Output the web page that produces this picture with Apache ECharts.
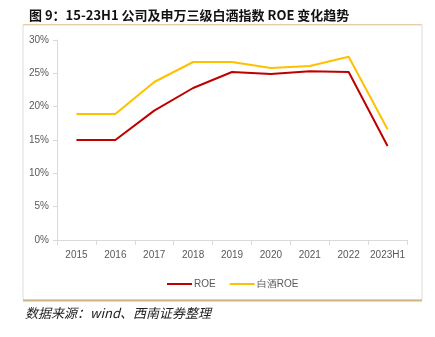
<!DOCTYPE html>
<html>
<head>
<meta charset="utf-8">
<style>
  html, body { margin: 0; padding: 0; background: #fff; }
  #chart { width: 435px; height: 337px; }
</style>
<script src="https://cdn.jsdelivr.net/npm/echarts@6/dist/echarts.min.js"></script>
</head>
<body>
<div id="chart"></div>
<script>
// Annual ROE: the company vs. the SW liquor (白酒) index
const categories = ['2015', '2016', '2017', '2018', '2019', '2020', '2021', '2022', '2023H1'];
const roeCompany = [15.0, 15.0, 19.4, 22.8, 25.2, 24.9, 25.3, 25.2, 14.1];
const roeBaijiu = [18.9, 18.9, 23.7, 26.7, 26.7, 25.8, 26.1, 27.5, 16.6];
const yTicks = [0, 5, 10, 15, 20, 25, 30];

const chart = echarts.init(document.getElementById('chart'), null, { renderer: 'canvas' });
const font = '"Liberation Sans", Arial, sans-serif';

chart.setOption({
  animation: false,
  backgroundColor: '#fff',
  title: {
    text: '图 9：15-23H1 公司及申万三级白酒指数 ROE 变化趋势',
    left: 24,
    top: 4,
    textStyle: {
      fontFamily: '"Noto Sans CJK SC", sans-serif',
      fontSize: 13,
      fontWeight: 'bold',
      color: '#111'
    }
  },
  graphic: [
    { type: 'rect', shape: { x: 23, y: 25, width: 399, height: 275 },
      style: { fill: '#fff', stroke: '#dcdcdc', lineWidth: 1 }, z: -1 },
    { type: 'line', shape: { x1: 23, y1: 24.5, x2: 422, y2: 24.5 },
      style: { stroke: '#e2cfa6', lineWidth: 1 } },
    { type: 'line', shape: { x1: 23, y1: 300.5, x2: 422, y2: 300.5 },
      style: { stroke: '#d2b483', lineWidth: 2 } },
    { type: 'text', left: 25, top: 307,
      style: { text: '数据来源：wind、西南证券整理', fontSize: 13,
        fontStyle: 'italic', fontFamily: '"Noto Sans CJK SC", sans-serif', fill: '#222' } }
  ],
  legend: {
    top: 274,
    left: 162,
    itemWidth: 25,
    itemHeight: 2,
    itemGap: 14,
    icon: 'rect',
    textStyle: { fontFamily: font, fontSize: 10, color: '#595959', padding: [0, 0, 0, -3] },
    data: ['ROE', '白酒ROE']
  },
  grid: { left: 57, right: 28, top: 40, bottom: 97, containLabel: false },
  xAxis: {
    type: 'category',
    data: categories,
    boundaryGap: true,
    axisLine: { lineStyle: { color: '#d9d9d9' } },
    axisTick: { show: true, lineStyle: { color: '#d9d9d9' } },
    axisLabel: { interval: 0, color: '#595959', fontFamily: font, fontSize: 10, margin: 10 }
  },
  yAxis: {
    type: 'value',
    min: yTicks[0],
    max: yTicks[yTicks.length - 1],
    interval: 5,
    axisLine: { show: true, lineStyle: { color: '#d9d9d9' } },
    axisTick: { show: true, inside: false, length: 4, lineStyle: { color: '#d9d9d9' } },
    splitLine: { show: false },
    axisLabel: { color: '#595959', fontFamily: font, fontSize: 10, margin: 8,
      formatter: v => v + '%' }
  },
  series: [
    {
      name: 'ROE', type: 'line', data: roeCompany,
      symbol: 'none', color: '#c00000',
      lineStyle: { width: 2, color: '#c00000' }
    },
    {
      name: '白酒ROE', type: 'line', data: roeBaijiu,
      symbol: 'none', color: '#ffc000',
      lineStyle: { width: 2, color: '#ffc000' }
    }
  ]
});
</script>
</body>
</html>
